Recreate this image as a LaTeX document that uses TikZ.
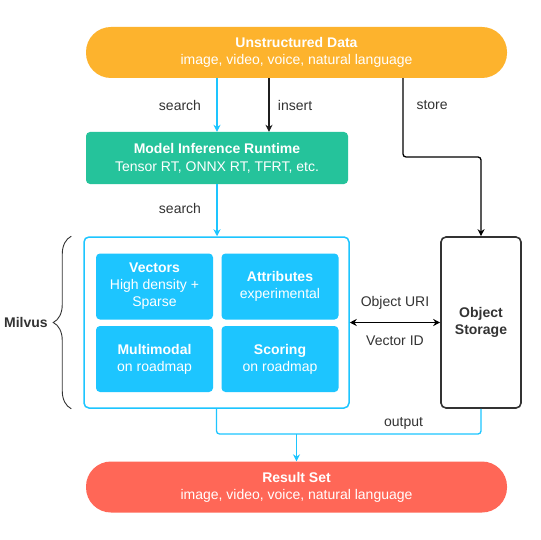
\documentclass[tikz,border=0pt]{standalone}
\usepackage{fontspec}
\setmainfont{Liberation Sans}
\usepackage{tikz}
\usetikzlibrary{positioning,arrows.meta,decorations.pathreplacing}

\definecolor{dataorange}{HTML}{FDB32D}
\definecolor{runtimegreen}{HTML}{25C39B}
\definecolor{milvusblue}{HTML}{1DC5FF}
\definecolor{resultred}{HTML}{FF6757}
\definecolor{labelgray}{HTML}{333333}

\begin{document}
\begin{tikzpicture}[x=1pt, y=-1pt, >={Stealth[length=7pt,width=7pt]},
  every node/.style={font=\fontsize{14}{17}\selectfont, text=labelgray},
  box/.style={rectangle, rounded corners=4pt, align=center, text=white, inner sep=0pt},
  pill/.style={box, rounded corners=25pt, minimum width=421pt, minimum height=51pt},
  cell/.style={box, fill=milvusblue, minimum width=117pt, minimum height=66pt},
  flow/.style={draw=milvusblue, line width=1.3pt},
  plain/.style={draw=black, line width=1.3pt}]

\fill [white] (0,0) rectangle (540,540);

% sources and sinks
\node [pill, fill=dataorange] (data) at (296.5,52.5)
  {\textbf{Unstructured Data}\\image, video, voice, natural language};
\node [pill, fill=resultred] (result) at (296.5,487)
  {\textbf{Result Set}\\image, video, voice, natural language};

\node [box, fill=runtimegreen, minimum width=262pt, minimum height=52pt,
  font=\fontsize{14}{18}\selectfont] (model) at (217,158)
  {\textbf{Model Inference Runtime}\\Tensor RT, ONNX RT, TFRT, etc.};

% milvus and its parts
\node [box, draw=milvusblue, line width=1.5pt, rounded corners=5pt,
  minimum width=265pt, minimum height=171pt] (milvus) at (216.5,322.5) {};

\foreach \m/\x/\y/\l in {vectors/154.5/286.5/{\textbf{Vectors}\\High density +\\Sparse},
    attributes/280/286.5/{\textbf{Attributes}\\experimental},
    multimodal/154.5/359/{\textbf{Multimodal}\\on roadmap},
    scoring/280/359/{\textbf{Scoring}\\on roadmap}}
  \node [cell] (\m) at (\x,\y) {\l};

\node [box, draw=labelgray, line width=1.6pt, rounded corners=5pt, text=labelgray,
  minimum width=80pt, minimum height=171pt] (store) at (481,322.5)
  {\textbf{Object}\\\textbf{Storage}};

\draw [labelgray, line width=0.9pt, decorate, decoration={brace, amplitude=18pt}]
  ([xshift=-12pt]milvus.south west) -- ([xshift=-12pt]milvus.north west);
\coordinate (brace-tip) at ([xshift=-31pt]milvus.west);
\node [left=1pt of brace-tip, font=\fontsize{14}{17}\selectfont\bfseries] (milvus-label) {Milvus};

% connectors
\draw [flow, ->] (model.north |- data.south) -- (model.north)
  node [pos=0.5, left=12pt] (search-1) {search};
\draw [plain, ->, draw=labelgray!60!black] ([xshift=52pt]model.north |- data.south) -- ([xshift=52pt]model.north)
  node [pos=0.5, right=5pt] (insert) {insert};

\coordinate (store-turn) at (403,157);
\draw [plain, ->, rounded corners=3pt] (data.south -| store-turn) -- (store-turn) -| (store.north);
\node [right=10pt of store-turn |- search-1] (store-label) {store};

\draw [flow, ->] (model.south) -- (model.south |- milvus.north)
  node [pos=0.47, left=12pt] (search-2) {search};

\draw [plain, <->] (milvus.east) -- (store.west)
  node [midway, above=9pt] (uri) {Object URI}
  node [midway, below=9pt] (vector-id) {Vector ID};

\coordinate (merge) at (296.5,434);
\draw [flow, rounded corners=3pt] (milvus.south) |- (merge) -| (store.south)
  node [pos=0.29, above=1pt] (output) {output};
\draw [flow, ->] (merge) -- (result.north);

\end{tikzpicture}
\end{document}
